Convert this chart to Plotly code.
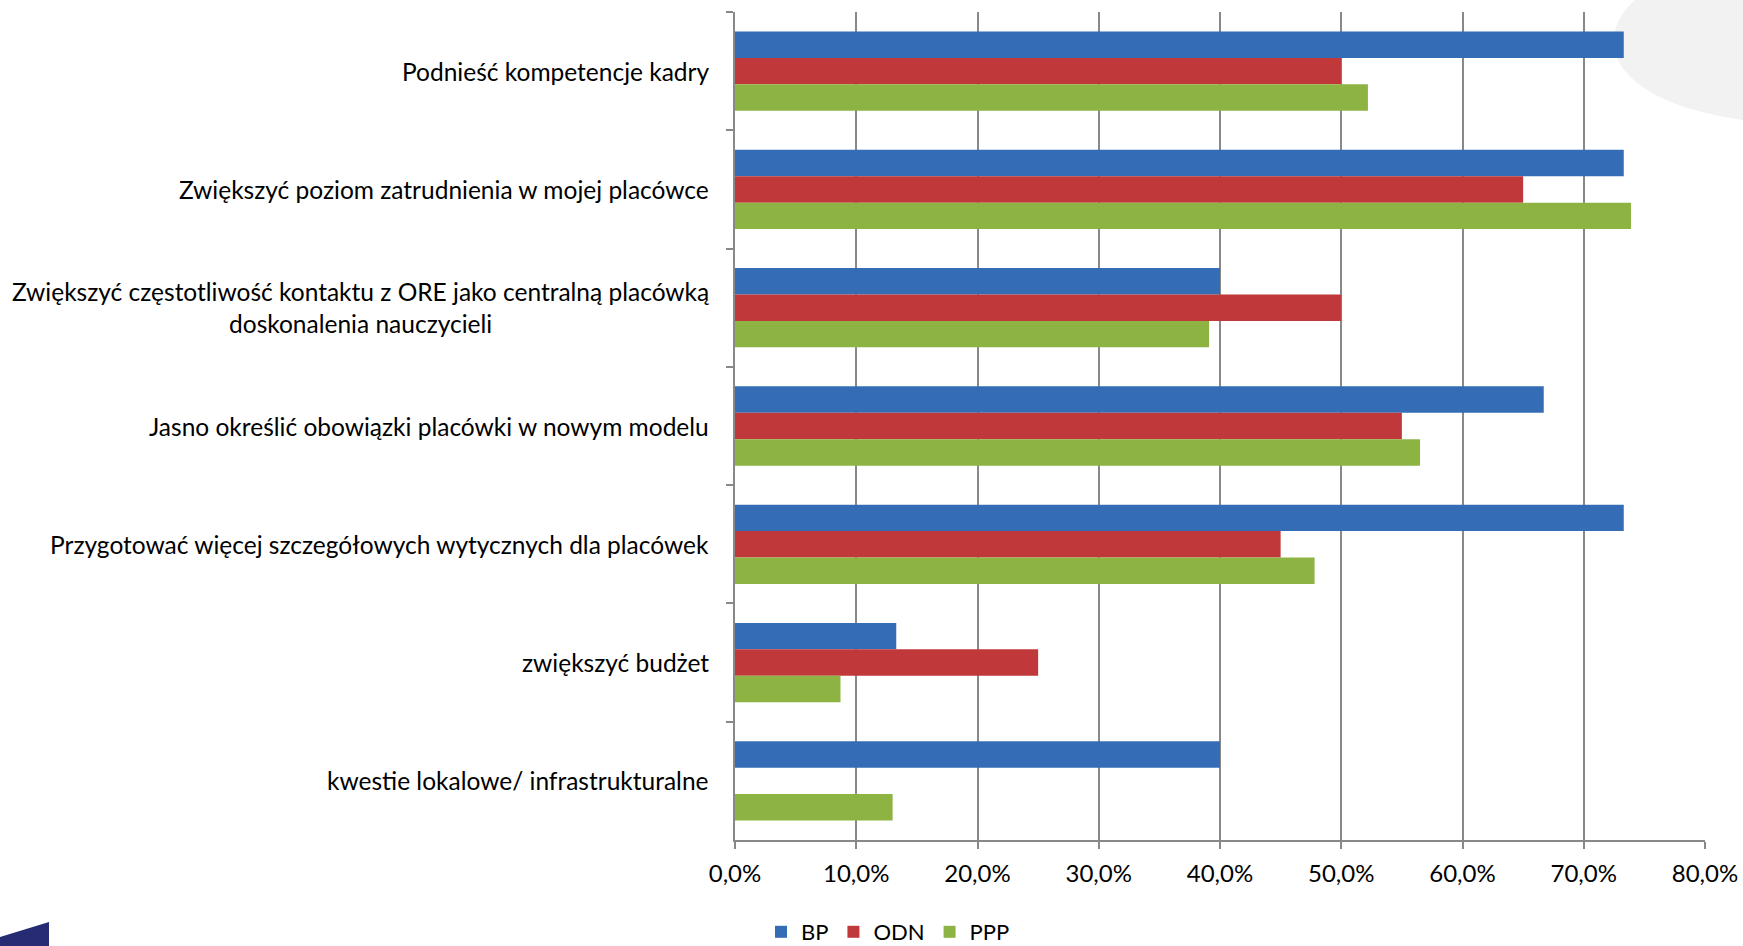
import plotly.graph_objects as go

categories = [
    "Podnieść kompetencje kadry",
    "Zwiększyć poziom zatrudnienia w mojej placówce",
    "Zwiększyć częstotliwość kontaktu z ORE jako centralną placówką<br>doskonalenia nauczycieli",
    "Jasno określić obowiązki placówki w nowym modelu",
    "Przygotować więcej szczegółowych wytycznych dla placówek",
    "zwiększyć budżet",
    "kwestie lokalowe/ infrastrukturalne",
]
bp = [0.733, 0.733, 0.400, 0.667, 0.733, 0.133, 0.400]
odn = [0.500, 0.650, 0.500, 0.550, 0.450, 0.250, 0.0]
ppp = [0.522, 0.739, 0.391, 0.565, 0.478, 0.087, 0.130]
x_ticks = [0, 0.1, 0.2, 0.3, 0.4, 0.5, 0.6, 0.7, 0.8]
x_tick_text = ["0,0%", "10,0%", "20,0%", "30,0%", "40,0%", "50,0%", "60,0%", "70,0%", "80,0%"]

W, H = 1743, 946
ML, MR, MT, MB = 735, 38, 12, 106
FONT = "Lato"


def px(x):
    return (x - ML) / (W - ML - MR)


def py(y):
    return 1 - (y - MT) / (H - MT - MB)


fig = go.Figure()
for name, vals, color in [
    ("BP", bp, "#346db6"),
    ("ODN", odn, "#c0383a"),
    ("PPP", ppp, "#8db443"),
]:
    fig.add_trace(go.Bar(
        name=name, y=categories, x=vals, orientation="h",
        marker=dict(color=color, line=dict(width=0)),
    ))

# category labels, centred lines, right-aligned against the axis
for c in categories:
    fig.add_annotation(
        x=0, xref="paper", y=c, yref="y", text=c, showarrow=False,
        xanchor="right", yanchor="middle", align="center", xshift=-24,
        font=dict(family=FONT, size=24.5, color="#000000"),
    )

# decorative background elements
arc = (f"M {px(1635)} {py(0)} C {px(1590)} {py(40)} {px(1612)} {py(102)} "
       f"{px(1743)} {py(120)} L {px(1743)} {py(0)} Z")
tri = (f"M {px(0)} {py(937)} L {px(49)} {py(922)} L {px(49)} {py(946)} "
       f"L {px(0)} {py(946)} Z")
fig.add_shape(type="path", path=arc, xref="paper", yref="paper",
              fillcolor="#f3f2f2", line=dict(width=0), layer="below")
fig.add_shape(type="path", path=tri, xref="paper", yref="paper",
              fillcolor="#262b74", line=dict(width=0), layer="above")

fig.update_layout(
    width=W, height=H,
    margin=dict(l=ML, r=MR, t=MT, b=MB, pad=0, autoexpand=False),
    paper_bgcolor="#ffffff", plot_bgcolor="rgba(0,0,0,0)",
    barmode="group", bargap=0.33, bargroupgap=0,
    font=dict(family=FONT, size=22, color="#000000"),
    legend=dict(
        orientation="h", x=px(888), xanchor="center", y=py(932), yanchor="middle",
        font=dict(family=FONT, size=22, color="#000000"),
        itemwidth=30, tracegroupgap=0,
    ),
    xaxis=dict(
        range=[0, 0.8], tickvals=x_ticks, ticktext=x_tick_text,
        showgrid=True, gridcolor="#888888", gridwidth=1.8,
        showline=True, linecolor="#888888", linewidth=1.8,
        ticks="outside", ticklen=7, tickcolor="#888888", tickwidth=1.8,
        ticklabelstandoff=4, zeroline=False,
        tickfont=dict(family=FONT, size=24, color="#000000"),
    ),
    yaxis=dict(
        autorange="reversed", showticklabels=False,
        showline=True, linecolor="#888888", linewidth=1.8,
        ticks="outside", ticklen=7, tickcolor="#888888", tickwidth=1.8,
        tickson="boundaries", showgrid=False, zeroline=False,
    ),
    showlegend=True,
)

fig.write_html("out.html")
